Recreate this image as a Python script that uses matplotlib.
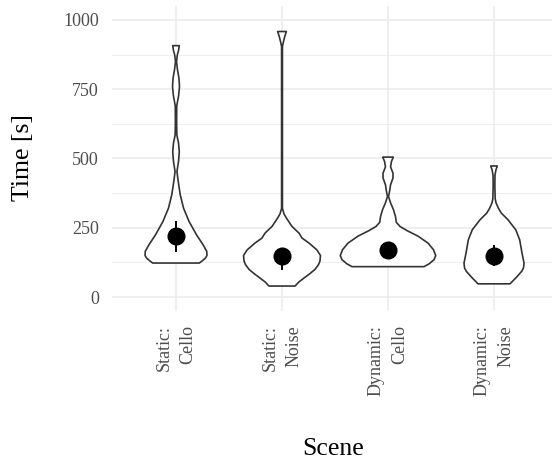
import matplotlib
matplotlib.use("Agg")
import matplotlib.pyplot as plt
import numpy as np

# ---------------- data ----------------
categories = ["Static:\nCello", "Static:\nNoise", "Dynamic:\nCello", "Dynamic:\nNoise"]

v1_y = [907, 890, 873, 849, 820, 790, 759, 725, 690, 633, 585, 555, 525, 490, 453, 417,
        369, 321, 273, 225, 189, 165, 150, 141, 130, 123]
v1_w = [0.031, 0.024, 0.012, 0.005, 0.014, 0.028, 0.033, 0.024, 0.007, 0.006, 0.008, 0.024,
        0.031, 0.024, 0.009, 0.021, 0.040, 0.071, 0.123, 0.193, 0.255, 0.290, 0.292, 0.278,
        0.245, 0.220]

v2_y = [958, 940, 920, 904, 320, 300, 285, 255, 231, 213, 195, 170, 150, 130, 117, 100,
        85, 69, 55, 40]
v2_w = [0.041, 0.026, 0.013, 0.004, 0.004, 0.019, 0.042, 0.094, 0.160, 0.189, 0.255, 0.330,
        0.363, 0.358, 0.344, 0.311, 0.264, 0.208, 0.160, 0.123]

v3_y = [505, 490, 470, 447, 430, 405, 380, 363, 340, 315, 290, 270, 255, 240, 220, 195,
        171, 150, 135, 120, 110]
v3_w = [0.050, 0.033, 0.024, 0.047, 0.047, 0.024, 0.014, 0.005, 0.024, 0.052, 0.071, 0.078,
        0.113, 0.179, 0.283, 0.377, 0.429, 0.450, 0.434, 0.387, 0.340]

v4_y = [473, 460, 440, 400, 355, 340, 320, 303, 279, 243, 207, 159, 123, 105, 93, 69, 48]
v4_w = [0.031, 0.019, 0.009, 0.008, 0.011, 0.019, 0.042, 0.069, 0.132, 0.205, 0.242, 0.264,
        0.283, 0.278, 0.261, 0.205, 0.151]

violin_y = [v1_y, v2_y, v3_y, v4_y]
violin_w = [v1_w, v2_w, v3_w, v4_w]

means = [221, 147, 171, 150]
ci_low = [163, 99, 150, 111]
ci_high = [273, 175, 192, 187]

y_ticks = [0, 250, 500, 750, 1000]

# ---------------- figure ----------------
plt.rcParams["font.family"] = ["Liberation Serif", "DejaVu Serif"]

fig = plt.figure(figsize=(5.52, 4.61), dpi=100)
ax = fig.add_axes([112 / 552, 150 / 461, 440 / 552, 305 / 461])

ax.set_xlim(-0.6038, 3.547)
ax.set_ylim(-50, 1050)

# grid
for yv in y_ticks:
    ax.axhline(yv, color="#EBEBEB", lw=1.1, zorder=0)
for yv in [125, 375, 625, 875]:
    ax.axhline(yv, color="#EBEBEB", lw=0.6, zorder=0)
for i in range(len(categories)):
    ax.axvline(i, color="#EBEBEB", lw=1.1, zorder=0)

# violins
for i, (ys, ws) in enumerate(zip(violin_y, violin_w)):
    ys = np.array(ys, dtype=float)
    ws = np.array(ws, dtype=float)
    xs = np.concatenate([i - ws, (i + ws)[::-1]])
    yy = np.concatenate([ys, ys[::-1]])
    ax.fill(xs, yy, facecolor="white", edgecolor="#333333", lw=1.2, zorder=2,
            joinstyle="round")

# means with CI
for i in range(len(categories)):
    ax.plot([i, i], [ci_low[i], ci_high[i]], color="black", lw=1.4, zorder=3,
            solid_capstyle="butt")
    ax.plot(i, means[i], "o", color="black", markersize=12, zorder=4)

for s in ax.spines.values():
    s.set_visible(False)

ax.set_yticks(y_ticks)
ax.set_yticklabels([str(v) for v in y_ticks])
ax.set_xticks(range(len(categories)))
ax.set_xticklabels(categories, rotation=90, ha="center", va="top",
                   multialignment="right", linespacing=1.5)
ax.tick_params(axis="both", length=0, labelsize=13, labelcolor="#4D4D4D")
ax.tick_params(axis="y", pad=9.4)
ax.tick_params(axis="x", pad=10)

fig.text(23 / 552, 1 - 158 / 461, "Time [s]", rotation=90, ha="center", va="center",
         fontsize=18.5, color="black")
fig.text(333 / 552, 1 - 449 / 461, "Scene", ha="center", va="center",
         fontsize=18.5, color="black")

fig.savefig("out.png", dpi=100)
